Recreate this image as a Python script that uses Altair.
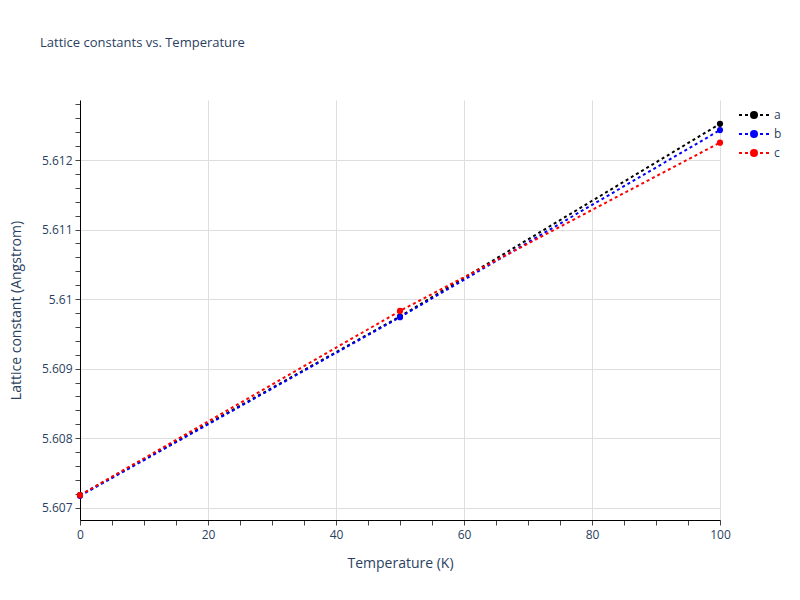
import altair as alt
import pandas as pd

temperature = [0, 50, 100]
series_names = ["a", "b", "c"]
lat_a = [5.60718, 5.60975, 5.61252]
lat_b = [5.60717, 5.60974, 5.61243]
lat_c = [5.60718, 5.60983, 5.61225]
colors = ["black", "blue", "red"]

rows = []
for name, vals in zip(series_names, [lat_a, lat_b, lat_c]):
    for t, v in zip(temperature, vals):
        rows.append({"T": t, "L": v, "series": name})
df = pd.DataFrame(rows)

x_ticks = list(range(0, 101, 5))
y_ticks = [round(5.607 + i * 0.0002, 4) for i in range(30)]

TXT = "#2a3f5f"
FONT = "Open Sans"
Y_MAJOR = "abs(datum.value*1000 - round(datum.value*1000)) < 0.01"

x_axis = alt.Axis(
    values=x_ticks, tickCount=200, labelOverlap=False, labelFlush=False,
    labelExpr="datum.value % 20 === 0 ? format(datum.value, 'd') : ''",
    gridOpacity={"condition": {"test": "datum.value % 20 === 0", "value": 1}, "value": 0},
    title="Temperature (K)",
    titleX=320, titleY=43, titleBaseline="middle", titleAlign="center",
    tickSize=5, labelPadding=4,
)
y_axis = alt.Axis(
    values=y_ticks, tickCount=200, labelOverlap=False, labelFlush=False,
    labelExpr=Y_MAJOR + " ? format(datum.value, '.4~f') : ''",
    gridOpacity={"condition": {"test": Y_MAJOR, "value": 1}, "value": 0},
    title="Lattice constant (Angstrom)",
    titleX=-64, titleY=210, titleBaseline="middle", titleAlign="center", titleAngle=-90,
    tickSize=5, labelPadding=3,
)

xs = alt.Scale(domain=[0, 100], nice=False, zero=False)
ys = alt.Scale(domain=[5.606823, 5.612863], nice=False, zero=False)
cs = alt.Scale(domain=series_names, range=colors)

# legend glyph: dotted line segments with a circle in the middle (unit = 8px)
legend_glyph = (
    "M-1.875,0L-1.5,0M-1.125,0L-0.75,0"
    "M0.75,0L1.125,0M1.5,0L1.875,0"
    "M0.375,0A0.375,0.375,0,1,1,-0.375,0A0.375,0.375,0,1,1,0.375,0Z"
)

leg = alt.Legend(
    title=None, orient="none", legendX=658, legendY=6,
    symbolType=legend_glyph,
    symbolSize=256, symbolStrokeWidth=2, symbolOffset=7,
    labelOffset=11, rowPadding=3, labelFontSize=12, labelColor=TXT, labelFont=FONT,
)

base = alt.Chart(df)
line = base.mark_line(strokeWidth=2, strokeDash=[3, 3]).encode(
    x=alt.X("T:Q", scale=xs, axis=x_axis),
    y=alt.Y("L:Q", scale=ys, axis=y_axis),
    stroke=alt.Stroke("series:N", scale=cs, legend=leg),
)
pts = base.mark_circle(size=38, opacity=1, strokeWidth=0).encode(
    x="T:Q",
    y="L:Q",
    fill=alt.Fill("series:N", scale=cs, legend=leg),
    stroke=alt.Stroke("series:N", scale=cs, legend=leg),
)

chart = alt.layer(line, pts).properties(
    width=640, height=420,
    autosize=alt.AutoSizeParams(type="none"),
    padding={"left": 72, "top": 92, "right": 72, "bottom": 72},
    title=alt.TitleParams(
        "Lattice constants vs. Temperature", anchor="start", frame="group",
        dx=-40, offset=48, fontSize=13, fontWeight="normal", color=TXT, font=FONT,
    ),
).configure_view(stroke=None).configure_axis(
    domainColor="black", domainWidth=1, tickColor="#444", tickWidth=1,
    gridColor="#dedede", gridWidth=1,
    labelFont=FONT, labelFontSize=12, labelColor=TXT,
    titleFont=FONT, titleFontSize=14, titleColor=TXT, titleFontWeight="normal",
)

chart.save("out.html", embed_options={"renderer": "svg", "actions": False})
